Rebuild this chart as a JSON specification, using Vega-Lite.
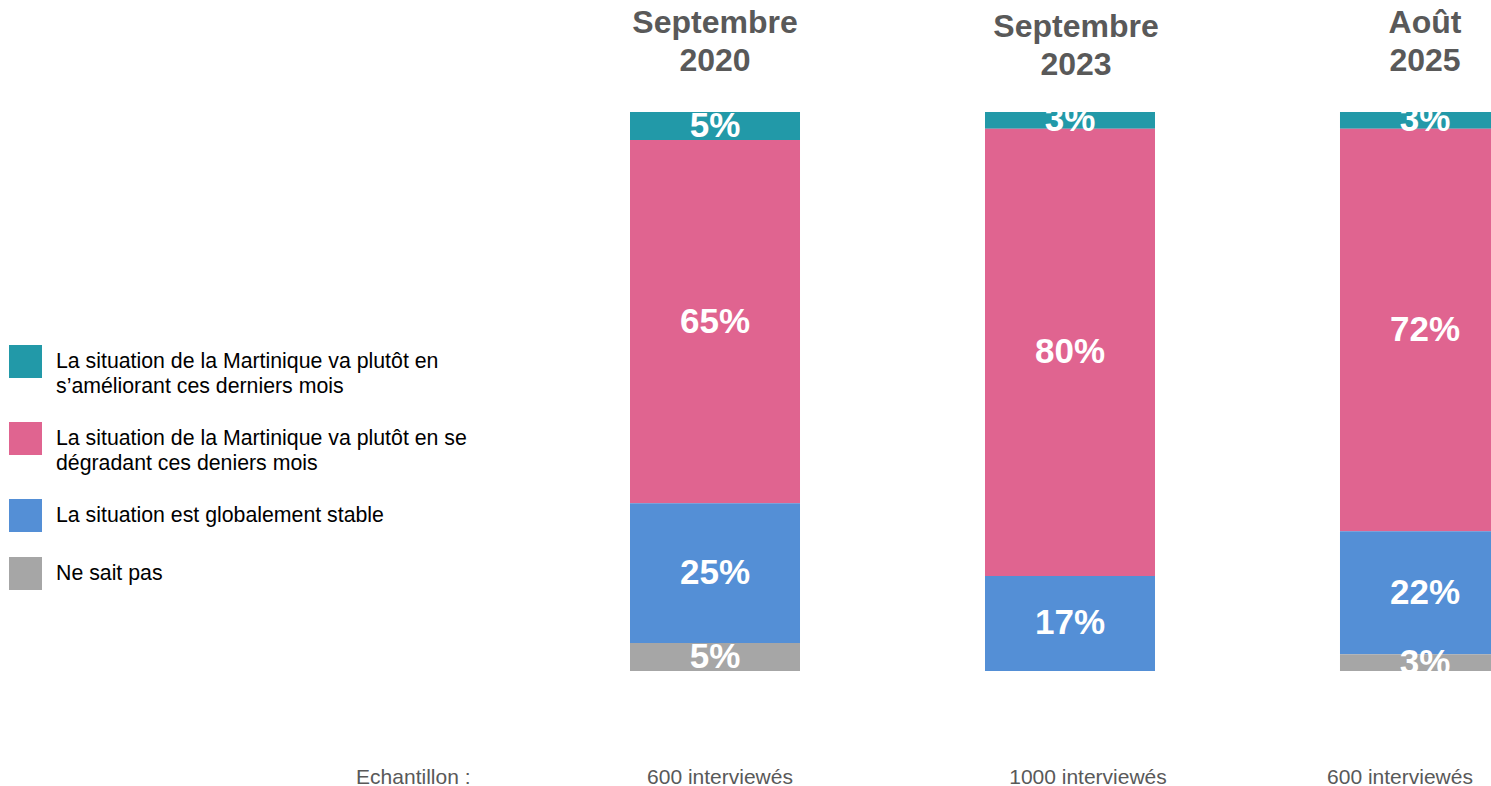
{
  "$schema": "https://vega.github.io/schema/vega-lite/v6.json",
  "width": 861,
  "height": 559,
  "autosize": "none",
  "padding": {"left": 630, "top": 112, "right": 0, "bottom": 115},
  "background": "white",
  "config": {"view": {"stroke": null}, "font": "Liberation Sans"},
  "data": {
    "values": [
      {"periode": "Septembre 2020", "reponse": "La situation de la Martinique va plutôt en\ns’améliorant ces derniers mois", "pct": 0.05, "rang": 4},
      {"periode": "Septembre 2020", "reponse": "La situation de la Martinique va plutôt en se\ndégradant ces deniers mois", "pct": 0.65, "rang": 3},
      {"periode": "Septembre 2020", "reponse": "La situation est globalement stable", "pct": 0.25, "rang": 2},
      {"periode": "Septembre 2020", "reponse": "Ne sait pas", "pct": 0.05, "rang": 1},
      {"periode": "Septembre 2023", "reponse": "La situation de la Martinique va plutôt en\ns’améliorant ces derniers mois", "pct": 0.03, "rang": 4},
      {"periode": "Septembre 2023", "reponse": "La situation de la Martinique va plutôt en se\ndégradant ces deniers mois", "pct": 0.80, "rang": 3},
      {"periode": "Septembre 2023", "reponse": "La situation est globalement stable", "pct": 0.17, "rang": 2},
      {"periode": "Septembre 2023", "reponse": "Ne sait pas", "pct": 0, "rang": 1},
      {"periode": "Août 2025", "reponse": "La situation de la Martinique va plutôt en\ns’améliorant ces derniers mois", "pct": 0.03, "rang": 4},
      {"periode": "Août 2025", "reponse": "La situation de la Martinique va plutôt en se\ndégradant ces deniers mois", "pct": 0.72, "rang": 3},
      {"periode": "Août 2025", "reponse": "La situation est globalement stable", "pct": 0.22, "rang": 2},
      {"periode": "Août 2025", "reponse": "Ne sait pas", "pct": 0.03, "rang": 1}
    ]
  },
  "layer": [
    {
      "mark": {"type": "bar", "clip": true},
      "encoding": {
        "x": {
          "field": "periode", "type": "nominal",
          "scale": {"domain": ["Septembre 2020", "Septembre 2023", "Août 2025"], "range": [0, 880], "paddingInner": 0.5211, "paddingOuter": 0},
          "axis": {
            "orient": "top", "title": null, "domain": false, "ticks": false, "labelAngle": 0,
            "labelFont": "Liberation Sans", "labelFontSize": 32, "labelFontWeight": "bold", "labelColor": "#595959",
            "labelLineHeight": 38, "labelPadding": {"condition": {"test": "datum.value == 'Septembre 2023'", "value": 69}, "value": 73},
            "labelOffset": {"condition": {"test": "datum.value == 'Septembre 2023'", "value": 6}, "value": 0},
            "labelExpr": "split(datum.label, ' ')"
          }
        },
        "y": {"field": "pct", "type": "quantitative", "stack": "zero", "scale": {"domain": [0, 1], "nice": false}, "axis": null},
        "color": {
          "field": "reponse", "type": "nominal",
          "scale": {
            "domain": [
              "La situation de la Martinique va plutôt en\ns’améliorant ces derniers mois",
              "La situation de la Martinique va plutôt en se\ndégradant ces deniers mois",
              "La situation est globalement stable",
              "Ne sait pas"
            ],
            "range": ["#2299A8", "#E06490", "#548FD6", "#A6A6A6"]
          },
          "legend": {
            "orient": "none", "legendX": -621, "legendY": 233, "title": null, "padding": 0,
            "symbolType": "square", "symbolSize": 1089, "symbolStrokeWidth": 0, "symbolOpacity": 1,
            "labelFont": "Liberation Sans", "labelFontSize": 21.3, "labelColor": "#000000", "labelOffset": 14, "labelLimit": 700,
            "rowPadding": 25, "labelExpr": "split(datum.label, '\\n')",
            "encode": {"labels": {"update": {"lineHeight": {"value": 25}}}}
          }
        },
        "order": {"field": "rang", "type": "quantitative"}
      }
    },
    {
      "transform": [{"filter": "datum.pct > 0"}],
      "mark": {"type": "text", "clip": true, "color": "white", "font": "Liberation Sans", "fontSize": 35, "fontWeight": "bold", "baseline": "middle"},
      "encoding": {
        "x": {
          "field": "periode", "type": "nominal",
          "axis": {
            "orient": "bottom", "title": "Echantillon :", "domain": false, "ticks": false, "labelAngle": 0,
            "labelFont": "Liberation Sans", "labelFontSize": 21, "labelColor": "#595959", "labelPadding": 95,
            "labelExpr": "datum.value == 'Septembre 2023' ? '1000 interviewés' : '600 interviewés'",
            "labelOffset": {"condition": [{"test": "datum.value == 'Septembre 2023'", "value": 18}, {"test": "datum.value == 'Août 2025'", "value": -25}], "value": 5},
            "titleFont": "Liberation Sans", "titleFontSize": 21, "titleFontWeight": "normal", "titleColor": "#595959",
            "titleX": -160, "titleY": 112, "titleAlign": "right", "titleBaseline": "alphabetic", "titleAnchor": "start"
          }
        },
        "y": {"field": "pct", "type": "quantitative", "stack": "zero", "bandPosition": 0.5},
        "text": {"field": "pct", "type": "quantitative", "format": ".0%"},
        "order": {"field": "rang", "type": "quantitative"}
      }
    }
  ],
  "resolve": {"axis": {"x": "independent"}}
}
